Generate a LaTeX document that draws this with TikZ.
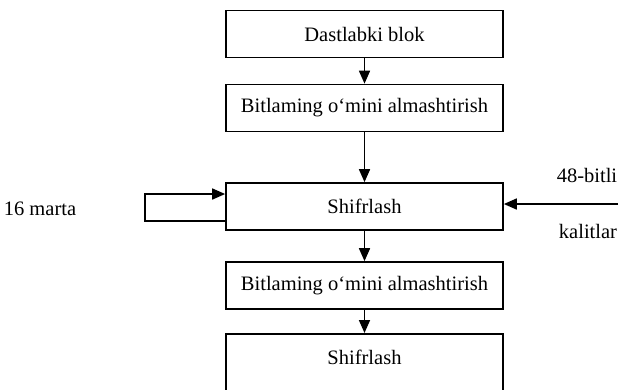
\documentclass[tikz,border=0pt]{standalone}
\usepackage{fontspec}
\setmainfont{Liberation Serif}
\usetikzlibrary{arrows.meta}
\begin{document}
\begin{tikzpicture}[x=1pt,y=-1pt,
  blk/.style={draw,line width=1.7pt,minimum width=277pt,minimum height=47pt,inner sep=0pt,font=\fontsize{20.5}{24}\selectfont},
  lbl/.style={font=\fontsize{20.5}{24}\selectfont,inner sep=0pt},
  arr/.style={line width=1.7pt,-{Triangle[length=13pt,width=11pt]}},
  ln/.style={line width=1.7pt}]
\useasboundingbox[fill=white] (0,0) rectangle (622,389);
\node[blk] (b1) at (364.5,34) {Dastlabki blok};
\node[blk] (b2) at (364.5,108) {Bitlaming o`mini almashtirish};
\node[blk] (b3) at (364.5,206.5) {Shifrlash};
\node[blk] (b4) at (364.5,285.5) {Bitlaming o`mini almashtirish};
\node[blk,minimum height=60pt,anchor=north] (b5) at (364.5,333) {};
\node[lbl] (t5) at (364.5,357) {Shifrlash};
\draw[arr] (b1) -- (b2);
\draw[arr] (b2) -- (b3);
\draw[arr] (b3) -- (b4);
\draw[arr] (b4) -- (b5);
\coordinate (loopL) at (145,207);
\draw[arr] (b3.west |- 0,221) -- (loopL |- 0,221) -- (loopL |- 0,194) -- (b3.west |- 0,194);
\coordinate (keyin) at (618,204);
\draw[arr] (keyin) -- (b3.east |- keyin);
\node[lbl] (k1) at (587,175) {48-bitli};
\node[lbl] (k2) at (588,231) {kalitlar};
\node[lbl] (m16) at (40,209) {16 marta};
\end{tikzpicture}
\end{document}
